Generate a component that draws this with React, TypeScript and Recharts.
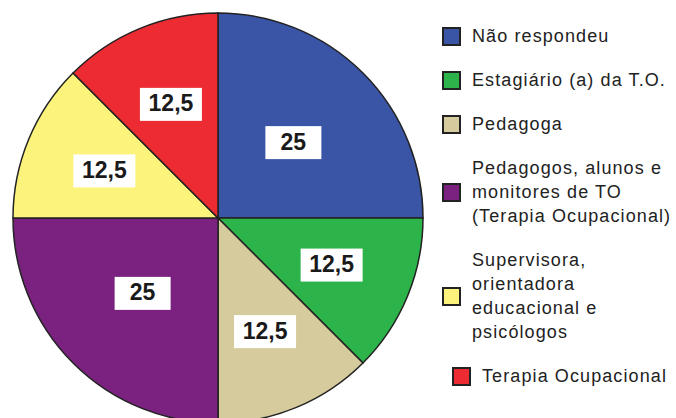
import { Cell, Legend, Pie, PieChart } from "recharts"

const categories = [
  "Não respondeu",
  "Estagiário (a) da T.O.",
  "Pedagoga",
  "Pedagogos, alunos e monitores de TO (Terapia Ocupacional)",
  "Supervisora, orientadora educacional e psicólogos",
  "Terapia Ocupacional",
]
// legend text is wrapped by hand like in the original
const legendLines = [
  ["Não respondeu"],
  ["Estagiário (a) da T.O."],
  ["Pedagoga"],
  ["Pedagogos, alunos e", "monitores de TO", "(Terapia Ocupacional)"],
  ["Supervisora,", "orientadora", "educacional e", "psicólogos"],
  ["Terapia Ocupacional"],
]
const values = [25, 12.5, 12.5, 25, 12.5, 12.5]
const colors = ["#3a55a6", "#2cb34a", "#d6cb9c", "#7b2280", "#fbf37c", "#ec2b33"]

const data = categories.map((name, i) => ({ name, value: values[i] }))

const FONT = "'Liberation Sans', Arial, sans-serif"
const RADIAN = Math.PI / 180

function renderLabel(props: any) {
  const { cx, cy, midAngle, outerRadius, value } = props
  const r = outerRadius * (value >= 25 ? 0.52 : 0.6)
  const x = cx + r * Math.cos(-midAngle * RADIAN)
  const y = cy + r * Math.sin(-midAngle * RADIAN)
  const w = value >= 25 ? 56 : 62
  const h = 33
  return (
    <g>
      <rect x={x - w / 2} y={y - h / 2} width={w} height={h} fill="#fff" />
      <text
        x={x}
        y={y + 1}
        textAnchor="middle"
        dominantBaseline="middle"
        fontFamily={FONT}
        fontSize={23}
        fontWeight="bold"
        fill="#1a1a1a"
      >
        {String(value).replace(".", ",")}
      </text>
    </g>
  )
}

function LegendContent() {
  return (
    <div style={{ fontFamily: FONT, fontSize: 18, letterSpacing: 1.1, color: "#222" }}>
      {legendLines.map((lines, i) => (
        <div
          key={i}
          style={{
            display: "flex",
            alignItems: "center",
            marginBottom: 20,
            marginLeft: i === legendLines.length - 1 ? 10 : 0,
          }}
        >
          <span
            style={{
              width: 15,
              height: 15,
              background: colors[i],
              border: "2px solid #222",
              marginRight: 11,
              flexShrink: 0,
            }}
          />
          <div style={{ lineHeight: "24px" }}>
            {lines.map((l, j) => (
              <div key={j}>{l}</div>
            ))}
          </div>
        </div>
      ))}
    </div>
  )
}

export default function App() {
  return (
    <div style={{ width: 676, height: 418, background: "#fff", overflow: "hidden" }}>
      <style>{"body{margin:0}"}</style>
      <PieChart width={676} height={418} margin={{ top: 0, right: 0, bottom: 0, left: 0 }}>
        <Pie
          data={data}
          dataKey="value"
          nameKey="name"
          cx={218}
          cy={218}
          outerRadius={205}
          startAngle={90}
          endAngle={-270}
          stroke="#222"
          strokeWidth={1.5}
          label={renderLabel}
          labelLine={false}
          isAnimationActive={false}
        >
          {data.map((d, i) => (
            <Cell key={d.name} fill={colors[i]} />
          ))}
        </Pie>
        <Legend
          layout="vertical"
          verticalAlign="top"
          align="right"
          content={<LegendContent />}
          wrapperStyle={{ left: 442, top: 24, width: 234 }}
        />
      </PieChart>
    </div>
  )
}
